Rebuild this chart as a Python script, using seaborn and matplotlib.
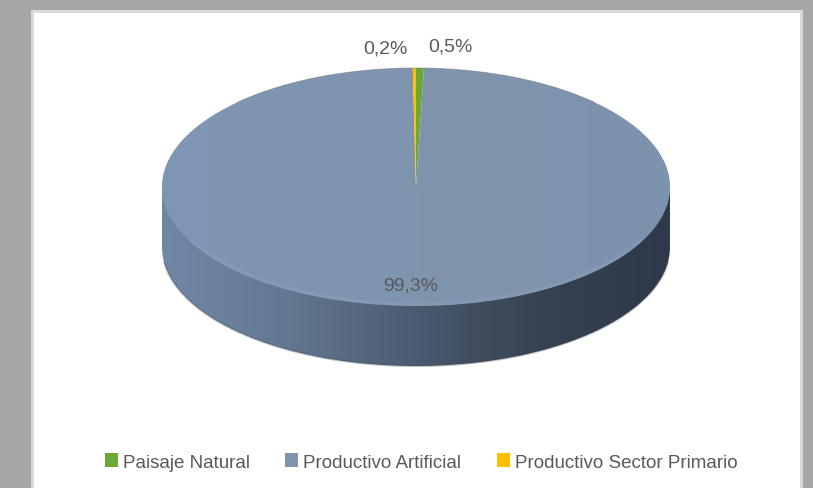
import matplotlib
matplotlib.use('Agg')
import matplotlib.pyplot as plt
import seaborn as sns
import numpy as np
from matplotlib.colors import LinearSegmentedColormap
from matplotlib.patches import Patch, PathPatch, Rectangle
from matplotlib.path import Path

categories = ['Paisaje Natural', 'Productivo Artificial', 'Productivo Sector Primario']
values = [0.5, 99.3, 0.2]
value_labels = ['0,5%', '99,3%', '0,2%']
colors = ['#6AA83A', '#8094AE', '#FFC000']

W, H = 813, 489
CX, CY, RX, RY = 416, 188, 254, 119   # ellipse of the top face, in pixels
DEPTH = 60 / RY


def to_data(px, py):
    return (px - CX) / RX, (CY - py) / RY


sns.set_theme(style='white')
plt.rcParams['font.family'] = ['Liberation Sans', 'DejaVu Sans']

fig = plt.figure(figsize=(W / 100, H / 100), dpi=100, facecolor='#A6A6A6')

# white panel
fig.patches.append(Rectangle((31 / W, 0), 772 / W, 1 - 11 / H, transform=fig.transFigure,
                             facecolor='#D9D9D9', edgecolor='none', zorder=-2))
fig.patches.append(Rectangle((34 / W, 0), 766 / W, 1 - 14 / H, transform=fig.transFigure,
                             facecolor='white', edgecolor='none', zorder=-1))

ax = fig.add_axes([0, 0, 1, 1])
ax.patch.set_alpha(0)

wedges, _ = ax.pie(values, colors=colors, startangle=90, counterclock=False, radius=1,
                   wedgeprops={'linewidth': 0, 'zorder': 5})
ax.set_aspect('auto')
x0, y0 = to_data(0, H)
x1, y1 = to_data(W, 0)

# side wall of the disc, shaded left to right
t = np.linspace(np.pi, 2 * np.pi, 200)
wall_x = np.r_[np.cos(t), np.cos(t[::-1])]
wall_y = np.r_[np.sin(t) + 0.02, np.sin(t[::-1]) - DEPTH]
wall = PathPatch(Path(np.c_[wall_x, wall_y]), facecolor='none', edgecolor='none',
                 transform=ax.transData)
ax.add_patch(wall)
wall_cmap = LinearSegmentedColormap.from_list(
    'wall', ['#7088A6', '#667C96', '#55677E', '#414F61', '#343F50', '#2E3A4A'])
grad = np.tile(np.linspace(0, 1, 256), (8, 1))
im = ax.imshow(grad, cmap=wall_cmap, extent=(-1, 1, -1 - DEPTH, 0.1), aspect='auto', zorder=3)
im.set_clip_path(wall)

# soft shadow under the wall
ax.plot(np.cos(t[8:-8]), np.sin(t[8:-8]) - DEPTH, color='#3A3F48', lw=1.5, alpha=0.3, zorder=4)

# soft light on the top face
top_cmap = LinearSegmentedColormap.from_list(
    'top', [(0.49, 0.60, 0.74, 0.55), (0.50, 0.58, 0.68, 0.0), (0.45, 0.55, 0.68, 0.25)])
im_top = ax.imshow(np.tile(np.linspace(0, 1, 256), (8, 1)), cmap=top_cmap,
                   extent=(-1, 1, -1, 1), aspect='auto', zorder=6)
im_top.set_clip_path(wedges[1])

# lighter front rim, thin dark back edge
ax.plot(np.cos(t[30:-30]) * 0.993, np.sin(t[30:-30]) * 0.985, color='#93A8C6', lw=2.5, alpha=0.3, zorder=7)
ax.plot(np.cos(t[50:-50]), -np.sin(t[50:-50]), color='#6B6F78', lw=0.7, alpha=0.5, zorder=7)
ax.set_xlim(x0, x1)
ax.set_ylim(y0, y1)

# value labels
label_pos = [(450, 47), (411, 286), (385, 49)]
for lab, (px, py) in zip(value_labels, label_pos):
    lx, ly = to_data(px, py)
    ax.text(lx, ly, lab, ha='center', va='center', fontsize=14, color='#595959', zorder=10)

handles = [Patch(facecolor=c, edgecolor='none') for c in colors]
fig.legend(handles, categories, ncol=3, loc='center', bbox_to_anchor=(421 / W, 1 - 463 / H),
           frameon=False, fontsize=13.5, labelcolor='#595959', handlelength=0.7, handleheight=0.7,
           handletextpad=0.25, columnspacing=1.9)

plt.savefig('out.png', dpi=100, facecolor=fig.get_facecolor())
plt.close()
